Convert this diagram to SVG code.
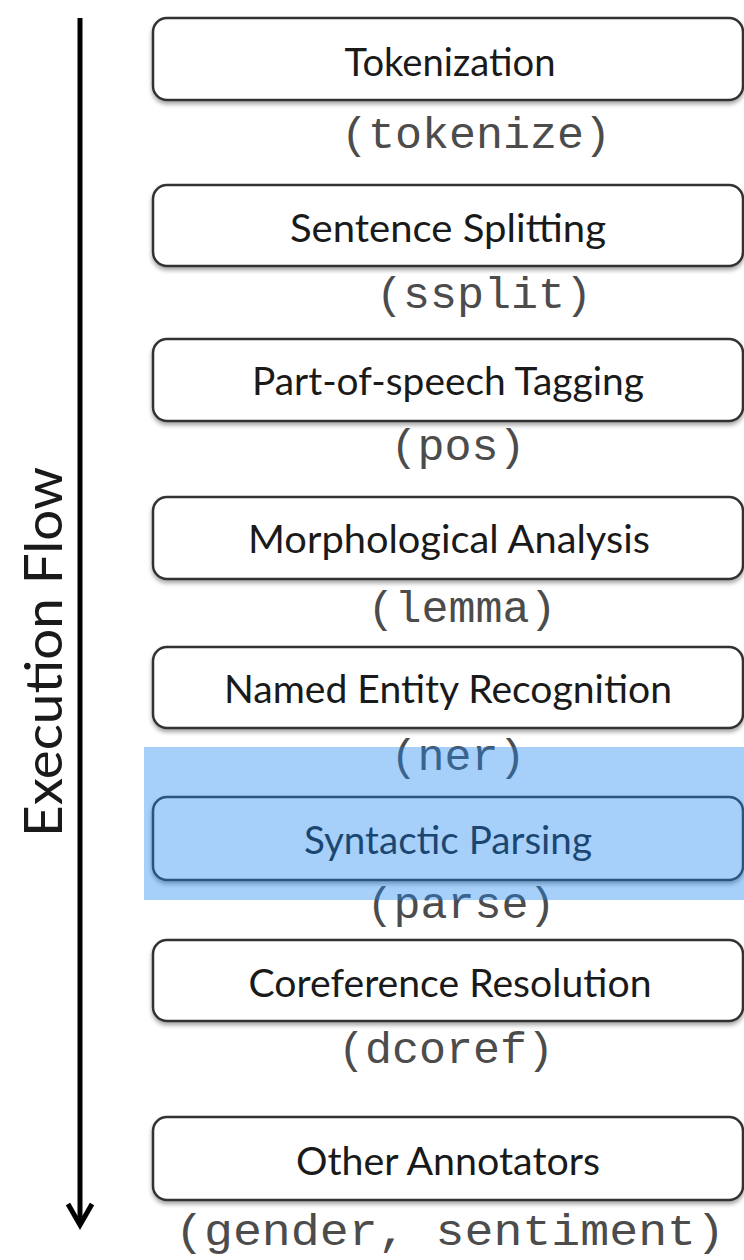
<svg xmlns="http://www.w3.org/2000/svg" width="744" height="1260" viewBox="0 0 744 1260">
  <style>
    .box { fill: #ffffff; stroke: #333333; stroke-width: 2.5; filter: url(#shadow); }
    .name { font-family: Lato, "Liberation Sans", sans-serif; font-size: 38px; fill: #1a1a1a; text-anchor: middle; }
    .code { font-family: "Liberation Mono", "DejaVu Sans Mono", monospace; font-size: 45px; fill: #4c4c4c; text-anchor: middle; }
    .flow { stroke: #000000; stroke-width: 5; fill: none; }
  </style>
  <defs>
    <filter id="shadow" x="-5%" y="-20%" width="110%" height="150%">
      <feDropShadow dx="0" dy="3" stdDeviation="2" flood-color="#000000" flood-opacity="0.35"/>
    </filter>
  </defs>

  <rect width="744" height="1260" fill="#ffffff"/>

  <!-- execution direction arrow -->
  <g id="connectors">
    <line class="flow" x1="80" y1="18" x2="80" y2="1222"/>
    <polyline class="flow" points="68,1204 80,1225 92,1204" stroke-width="6" stroke-linejoin="miter"/>
  </g>

  <g id="axis-label">
    <text transform="translate(62,652) rotate(-90)" font-family="Lato, 'Liberation Sans', sans-serif" font-size="53" fill="#1a1a1a" text-anchor="middle" textLength="370" lengthAdjust="spacingAndGlyphs">Execution Flow</text>
  </g>

  <g id="tokenize">
    <rect class="box" x="153" y="18" width="590" height="82" rx="14"/>
    <text class="name" x="450" y="76" textLength="211" lengthAdjust="spacingAndGlyphs">Tokenization</text>
    <text class="code" x="476" y="148">(tokenize)</text>
  </g>

  <g id="ssplit">
    <rect class="box" x="153" y="185" width="590" height="81" rx="14"/>
    <text class="name" x="448" y="242" textLength="316" lengthAdjust="spacingAndGlyphs">Sentence Splitting</text>
    <text class="code" x="484" y="308">(ssplit)</text>
  </g>

  <g id="pos">
    <rect class="box" x="153" y="339" width="590" height="82" rx="14"/>
    <text class="name" x="448" y="395" textLength="392" lengthAdjust="spacingAndGlyphs">Part-of-speech Tagging</text>
    <text class="code" x="458" y="460">(pos)</text>
  </g>

  <g id="lemma">
    <rect class="box" x="153" y="497" width="590" height="82" rx="14"/>
    <text class="name" x="449" y="553" textLength="402" lengthAdjust="spacingAndGlyphs">Morphological Analysis</text>
    <text class="code" x="462" y="622">(lemma)</text>
  </g>

  <g id="ner">
    <rect class="box" x="153" y="647" width="590" height="81" rx="14"/>
    <text class="name" x="448" y="703" textLength="448" lengthAdjust="spacingAndGlyphs">Named Entity Recognition</text>
    <text class="code" x="458" y="770">(ner)</text>
  </g>

  <g id="parse">
    <rect class="box" x="153" y="797" width="590" height="83" rx="14"/>
    <text class="name" x="448" y="854" textLength="288" lengthAdjust="spacingAndGlyphs">Syntactic Parsing</text>
    <text class="code" x="461" y="918">(parse)</text>
  </g>

  <g id="dcoref">
    <rect class="box" x="153" y="940" width="590" height="81" rx="14"/>
    <text class="name" x="450" y="997" textLength="403" lengthAdjust="spacingAndGlyphs">Coreference Resolution</text>
    <text class="code" x="446" y="1063">(dcoref)</text>
  </g>

  <g id="other">
    <rect class="box" x="153" y="1117" width="590" height="83" rx="14"/>
    <text class="name" x="448" y="1175" textLength="304" lengthAdjust="spacingAndGlyphs">Other Annotators</text>
    <text class="code" x="450" y="1245" font-size="47" textLength="550" lengthAdjust="spacingAndGlyphs">(gender, sentiment)</text>
  </g>

  <!-- translucent band over the parsing stage -->
  <rect id="highlight" x="144" y="747" width="600" height="153" fill="rgb(32,137,242)" fill-opacity="0.4"/>
</svg>
